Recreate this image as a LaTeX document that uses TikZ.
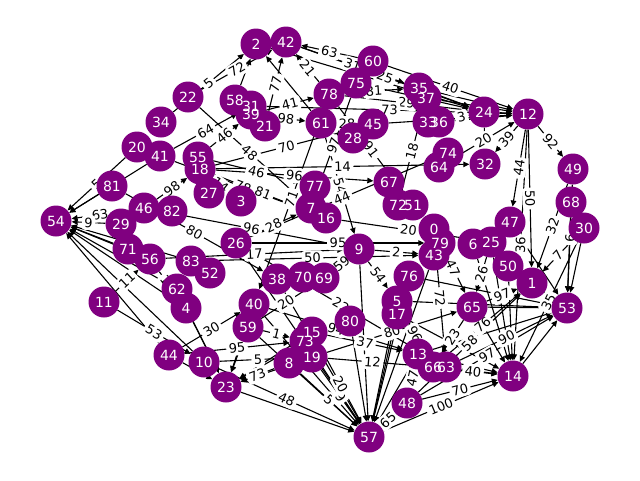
\documentclass[tikz,border=0pt]{standalone}
\usepackage{fontspec}
\setmainfont{DejaVu Sans}
\usetikzlibrary{arrows.meta}
\definecolor{nxpurple}{RGB}{128,0,128}
\pgfdeclarelayer{bg}\pgfdeclarelayer{mid}\pgfdeclarelayer{top}
\pgfsetlayers{bg,mid,main,top}
\tikzset{
 vtx/.style={circle, fill=nxpurple, minimum size=31pt, inner sep=0pt},
 vlab/.style={text=white, inner sep=0pt, font=\fontsize{14}{15}\selectfont},
 ed/.style={line width=1.1pt, -{Triangle[length=6pt,width=5.5pt]}},
 wl/.style={midway, sloped, fill=white, inner sep=2.5pt, rounded corners=3pt, font=\fontsize{13}{14}\selectfont},
}
\newcommand\myV[3]{\node[vtx] (n#1) at (#2,#3) {};\begin{pgfonlayer}{top}\node[vlab] at (#2,#3) {#1};\end{pgfonlayer}}
\newcommand\myE[3]{\begin{pgfonlayer}{bg}\draw[ed] (n#1) -- (n#2);\end{pgfonlayer}\begin{pgfonlayer}{mid}\path (n#1) -- (n#2) node[wl] {#3};\end{pgfonlayer}}
\newcommand\myU[2]{\begin{pgfonlayer}{bg}\draw[ed] (n#1) -- (n#2);\end{pgfonlayer}}
\begin{document}
\begin{tikzpicture}[x=1pt,y=-1pt]
\useasboundingbox (0,0) rectangle (640,480);
\myV{0}{434}{229}\myV{1}{532}{283}\myV{2}{256}{44}\myV{3}{241}{201}
\myV{4}{186}{308}\myV{5}{397}{301}\myV{6}{473}{244}\myV{7}{311}{208}
\myV{8}{289}{363}\myV{9}{359}{249}\myV{10}{204}{362}\myV{11}{104}{302}
\myV{12}{528}{114}\myV{13}{418}{354}\myV{14}{513}{376}\myV{15}{312}{332}
\myV{16}{326}{218}\myV{17}{397}{314}\myV{18}{200}{169}\myV{19}{312}{357}
\myV{20}{137}{147}\myV{21}{265}{126}\myV{22}{188}{97}\myV{23}{226}{387}
\myV{24}{484}{112}\myV{25}{491}{242}\myV{26}{236}{243}\myV{27}{209}{193}
\myV{28}{353}{138}\myV{29}{121}{224}\myV{30}{584}{228}\myV{31}{251}{106}
\myV{32}{485}{164}\myV{33}{428}{122}\myV{34}{161}{122}\myV{35}{419}{88}
\myV{36}{439}{122}\myV{37}{426}{98}\myV{38}{277}{279}\myV{39}{251}{114}
\myV{40}{254}{304}\myV{41}{160}{156}\myV{42}{286}{42}\myV{43}{434}{255}
\myV{44}{169}{355}\myV{45}{373}{124}\myV{46}{144}{208}\myV{47}{510}{222}
\myV{48}{407}{403}\myV{49}{573}{169}\myV{50}{508}{266}\myV{51}{413}{205}
\myV{52}{210}{273}\myV{53}{567}{308}\myV{54}{56}{221}\myV{55}{198}{157}
\myV{56}{150}{259}\myV{57}{369}{437}\myV{58}{235}{100}\myV{59}{248}{327}
\myV{60}{373}{61}\myV{61}{321}{123}\myV{62}{177}{289}\myV{63}{446}{367}
\myV{64}{439}{167}\myV{65}{472}{307}\myV{66}{433}{367}\myV{67}{389}{182}
\myV{68}{571}{202}\myV{69}{324}{278}\myV{70}{303}{277}\myV{71}{128}{249}
\myV{72}{398}{205}\myV{73}{305}{341}\myV{74}{448}{153}\myV{75}{356}{83}
\myV{76}{409}{276}\myV{77}{315}{186}\myV{78}{329}{94}\myV{79}{440}{243}
\myV{80}{350}{321}\myV{81}{112}{186}\myV{82}{172}{211}\myV{83}{191}{261}
% unlabeled hub edges
\foreach \s in {73,80,40,59,38,26,5,17,13,76,9,43,23}{\myU{\s}{57}}
\foreach \s in {13,63,17,50,25,6,65}{\myU{\s}{14}}
\foreach \s in {65,5,13,76,50,47,30,68,14}{\myU{\s}{53}}
\foreach \s in {73,15,19,59,40,4,62,44}{\myU{\s}{23}}
\foreach \s in {41,81,71,56,62,4,83,44,10}{\myU{\s}{54}}
\foreach \s in {24,35,37,36,45}{\myU{\s}{12}}
\foreach \s in {35,2,75}{\myU{\s}{24}}
\foreach \s in {58,61}{\myU{\s}{2}}
% labeled edges
\myE{60}{42}{63}\myE{78}{42}{21}\myE{22}{42}{72}\myE{21}{42}{77}
\myE{39}{78}{41}\myE{39}{61}{98}\myE{61}{45}{28}\myE{41}{31}{64}
\myE{55}{39}{46}\myE{22}{7}{48}\myE{18}{45}{70}\myE{55}{77}{46}
\myE{18}{67}{96}\myE{75}{7}{97}\myE{18}{32}{14}\myE{42}{24}{25}
\myE{78}{24}{29}\myE{60}{12}{40}\myE{78}{35}{81}\myE{31}{12}{73}
\myE{72}{37}{18}\myE{78}{51}{91}\myE{12}{32}{39}\myE{12}{47}{44}
\myE{12}{49}{92}\myE{46}{54}{63}\myE{46}{18}{98}\myE{81}{38}{80}
\myE{11}{56}{11}\myE{11}{10}{53}\myE{46}{9}{96}\myE{26}{79}{95}
\myE{83}{43}{50}\myE{69}{9}{59}\myE{16}{25}{20}\myE{0}{65}{47}
\myE{25}{65}{26}\myE{65}{1}{97}\myE{0}{63}{72}\myE{12}{1}{50}
\myE{49}{1}{32}\myE{12}{14}{36}\myE{44}{40}{30}\myE{19}{66}{12}
\myE{5}{66}{96}\myE{65}{66}{23}\myE{48}{1}{58}\myE{48}{53}{97}
\myE{63}{53}{90}\myE{66}{14}{40}\myE{48}{14}{70}\myE{57}{14}{100}
\myE{48}{57}{65}\myE{13}{48}{47}\myE{10}{57}{48}\myE{18}{16}{81}
\myE{20}{54}{5}\myE{29}{54}{9}
\myE{42}{35}{31}\myE{9}{5}{54}\myE{9}{43}{2}\myE{30}{14}{35}
\myE{40}{13}{94}\myE{44}{73}{95}\myE{56}{4}{17}\myE{26}{7}{28}
\myE{78}{40}{71}\myE{61}{9}{54}\myE{26}{74}{44}\myE{18}{3}{14}
\myE{41}{16}{78}\myE{56}{9}{17}\myE{59}{69}{20}\myE{26}{63}{22}
\myE{34}{2}{5}\myE{36}{24}{3}\myE{24}{32}{6}\myE{64}{12}{20}
\myE{49}{53}{6}\myE{30}{1}{7}\myE{10}{19}{5}\myE{59}{73}{1}
\myE{8}{23}{73}\myE{19}{65}{80}\myE{15}{13}{37}\myE{66}{1}{76}
\myE{8}{57}{5}\myE{19}{57}{9}\myE{15}{57}{20}
\end{tikzpicture}
\end{document}
